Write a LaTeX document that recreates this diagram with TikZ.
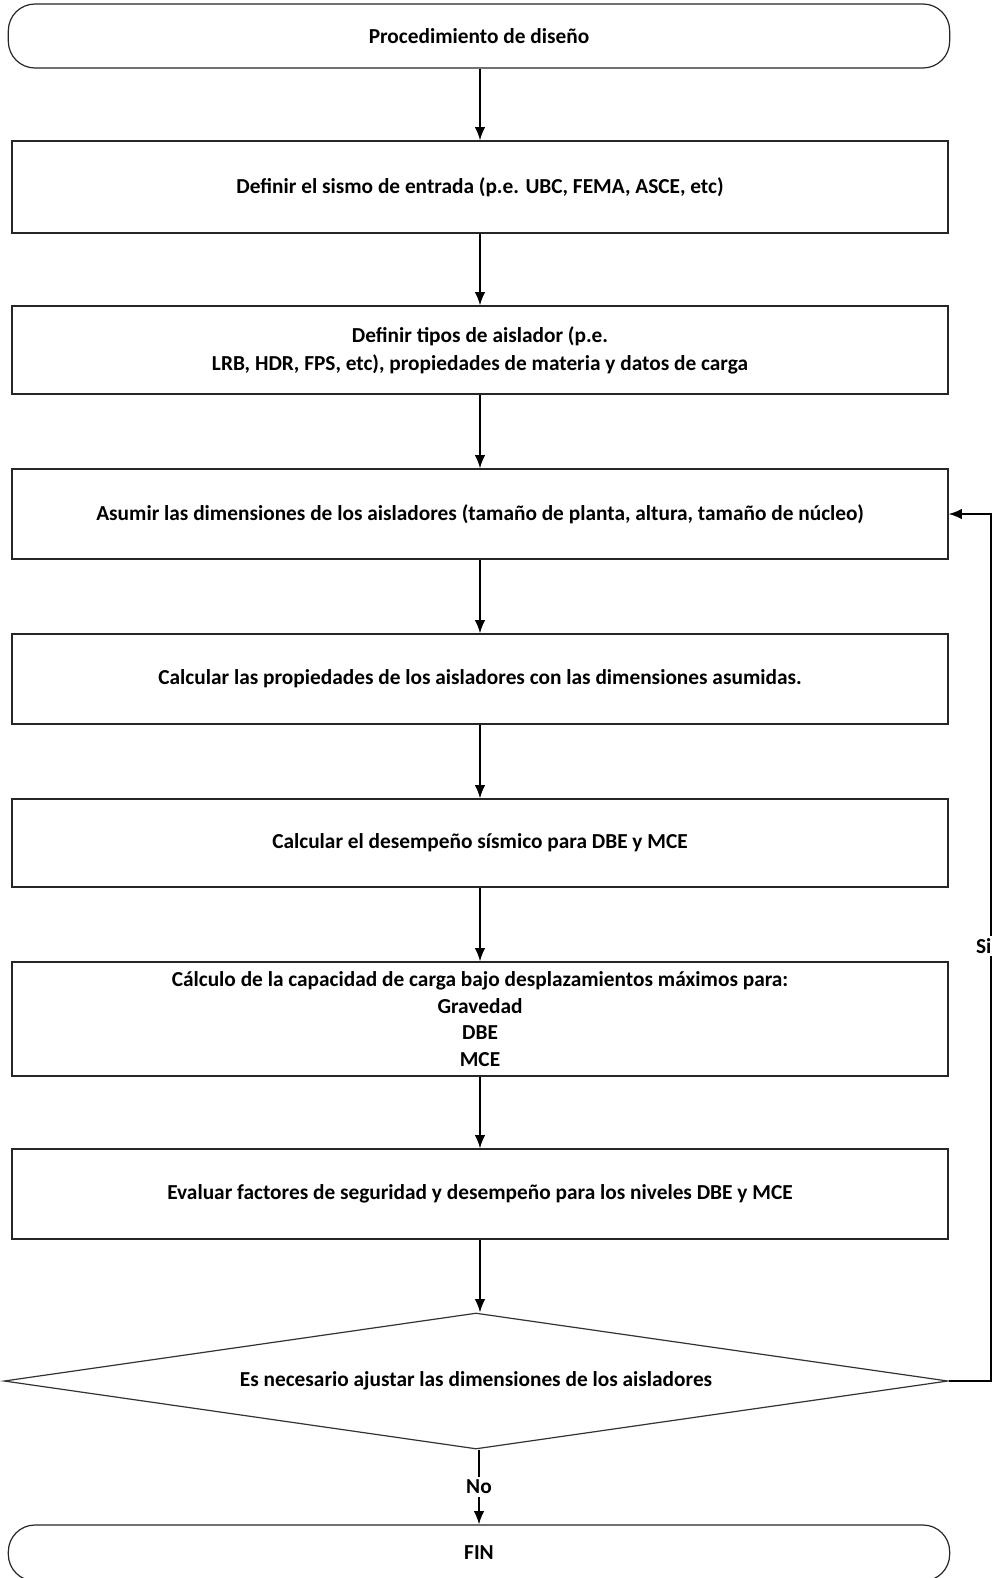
\documentclass[tikz,border=0pt]{standalone}
\usepackage{fontspec}
\setmainfont{Carlito}
\usetikzlibrary{shapes.geometric,arrows.meta}
\begin{document}
\begin{tikzpicture}[x=0.75pt,y=-0.75pt,
  every node/.style={font=\bfseries\fontsize{16}{19}\selectfont, inner sep=0pt},
  procbox/.style={draw=black!85, line width=0.9pt, rectangle, minimum width=702pt, align=center},
  termbox/.style={draw=black!85, line width=0.9pt, rectangle, rounded corners=20pt, minimum width=706pt},
  decbox/.style={draw=black!80, line width=0.9pt, diamond, aspect=6.94, minimum width=708pt, minimum height=102pt},
  arr/.style={draw=black, line width=1.4pt, -{Latex[length=10pt,width=8pt]}},
  lbl/.style={fill=white, inner sep=2pt}
]
\useasboundingbox (0,0) rectangle (993,1578);
\fill[white] (0,0) rectangle (993,1578);

\node[termbox, minimum height=48pt] (t1) at (479,36) {Procedimiento de diseño};
\node[procbox, minimum height=69pt] (b1) at (480,187) {Definir el sismo de entrada (p.e. UBC, FEMA, ASCE, etc)};
\node[procbox, minimum height=66pt] (b2) at (480,350) {Definir tipos de aislador (p.e.\\[2pt]LRB, HDR, FPS, etc), propiedades de materia y datos de carga};
\node[procbox, minimum height=67.5pt] (b3) at (480,514) {Asumir las dimensiones de los aisladores (tamaño de planta, altura, tamaño de núcleo)};
\node[procbox, minimum height=67.5pt] (b4) at (480,679) {Calcular las propiedades de los aisladores con las dimensiones asumidas.};
\node[procbox, minimum height=66pt] (b5) at (480,843) {Calcular el desempeño sísmico para DBE y MCE};
\node[procbox, minimum height=85.5pt] (b6) at (480,1019) {Cálculo de la capacidad de carga bajo desplazamientos máximos para:\\[1pt]Gravedad\\[1pt]DBE\\[1pt]MCE};
\node[procbox, minimum height=67.5pt] (b7) at (480,1194) {Evaluar factores de seguridad y desempeño para los niveles DBE y MCE};
\node[decbox] (dec) at (476,1381) {Es necesario ajustar las dimensiones de los aisladores};
\node[termbox, minimum height=42pt] (fin) at (479,1553) {FIN};

\draw[arr] (t1.south -| b1.north) -- (b1.north);
\draw[arr] (b1) -- (b2);
\draw[arr] (b2) -- (b3);
\draw[arr] (b3) -- (b4);
\draw[arr] (b4) -- (b5);
\draw[arr] (b5) -- (b6);
\draw[arr] (b6) -- (b7);
\draw[arr] (b7.south) -- (b7.south |- dec.north);
\draw[arr] (dec.south -| fin.north) -- node[lbl] (no) {No} (fin.north);

\coordinate (rc) at (991,1381);
\draw[arr] (dec.east) -- (rc) -- (rc |- b3.east) -- (b3.east);
\node[lbl, anchor=east, inner xsep=1pt] (si) at (993,946) {Si};
\end{tikzpicture}
\end{document}
